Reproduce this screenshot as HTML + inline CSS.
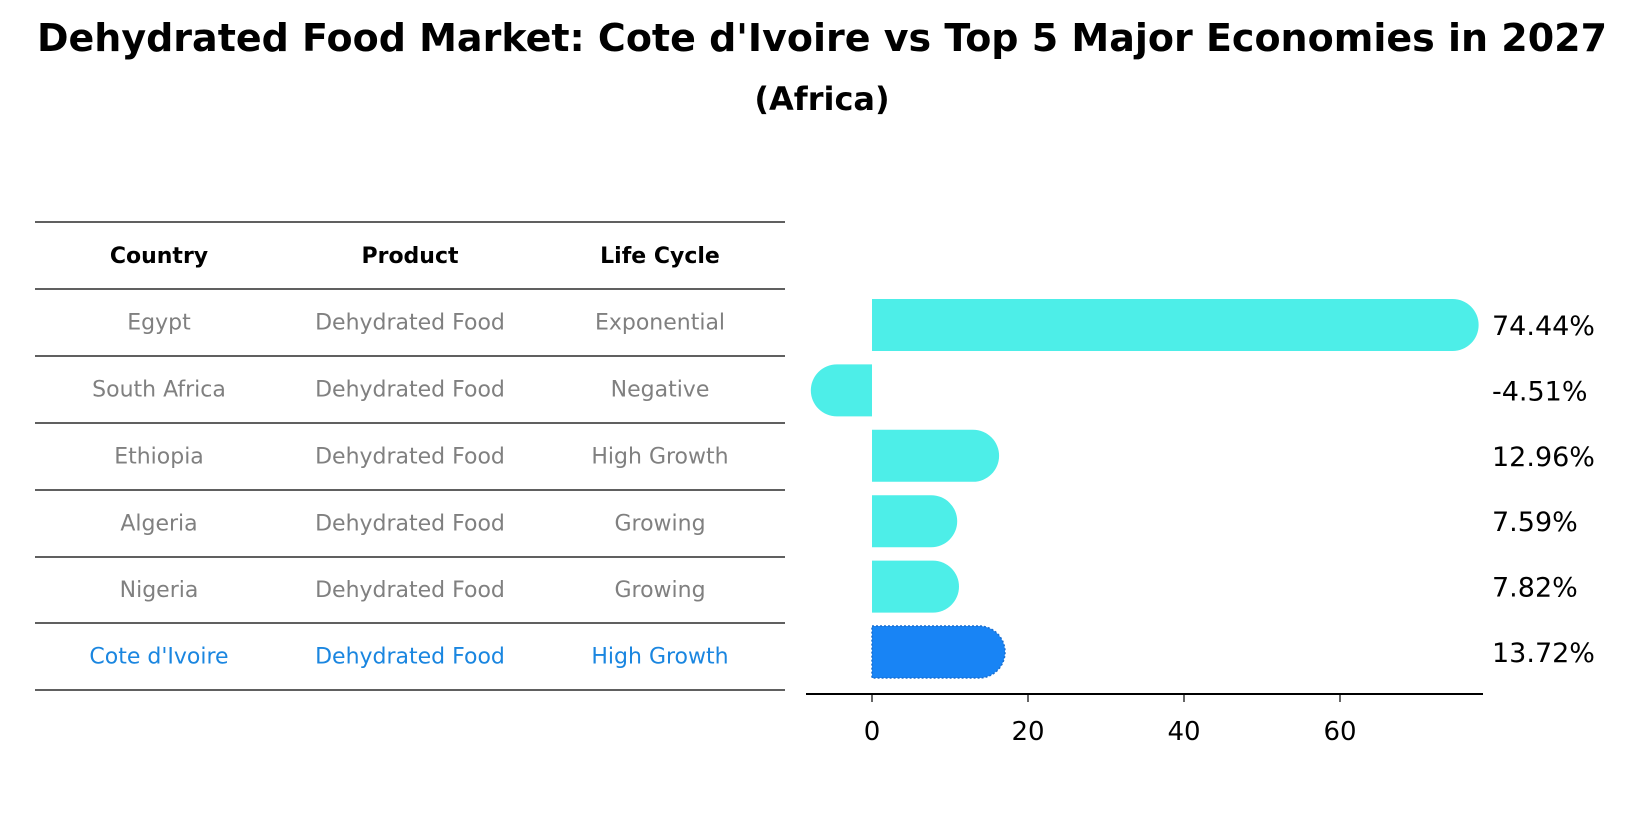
<!DOCTYPE html>
<html><head><meta charset="utf-8"><style>
body{margin:0;background:#fff;width:1644px;height:823px;overflow:hidden;font-family:"DejaVu Sans","Liberation Sans",sans-serif;}
</style></head><body>
<svg width="1644" height="823" xmlns="http://www.w3.org/2000/svg">
<text x="822" y="51" text-anchor="middle" font-size="38" font-weight="bold">Dehydrated Food Market: Cote d'Ivoire vs Top 5 Major Economies in 2027</text>
<text x="822" y="110" text-anchor="middle" font-size="32" font-weight="bold">(Africa)</text>
<g id="table"></g>
<g id="bars"></g>
</svg>
<script>
const countries=["Egypt","South Africa","Ethiopia","Algeria","Nigeria","Cote d'Ivoire"];
const products=["Dehydrated Food","Dehydrated Food","Dehydrated Food","Dehydrated Food","Dehydrated Food","Dehydrated Food"];
const lifeCycles=["Exponential","Negative","High Growth","Growing","Growing","High Growth"];
const values=[74.44,-4.51,12.96,7.59,7.82,13.72];
const valueLabels=["74.44%","-4.51%","12.96%","7.59%","7.82%","13.72%"];
const xTicks=[0,20,40,60];
const NS="http://www.w3.org/2000/svg";
function mk(tag,attrs,parent){const e=document.createElementNS(NS,tag);for(const k in attrs)e.setAttribute(k,attrs[k]);parent.appendChild(e);return e;}
const tbl=document.getElementById('table');
const lines=[222,289,356,423,490,557,623,690];
lines.forEach(y=>{const l=mk('line',{x1:35,x2:785,y1:y,y2:y,stroke:'#000','stroke-width':1.2},tbl);

});
const colX=[159,410,660];
["Country","Product","Life Cycle"].forEach((h,i)=>{const t=mk('text',{x:colX[i],y:263,'text-anchor':'middle','font-size':22,'font-weight':'bold'},tbl);t.textContent=h;

});
const rowY=i=>(lines[i+1]+lines[i+2])/2+7;
countries.forEach((c,i)=>{const col=i===countries.length-1?'#1a86e0':'#808080';
[c,products[i],lifeCycles[i]].forEach((v,j)=>{const t=mk('text',{x:colX[j],y:rowY(i),'text-anchor':'middle','font-size':22,fill:col},tbl);t.textContent=v;

});});
const g=document.getElementById('bars');
const x0=872,pxPer=7.8;
const X=v=>x0+v*pxPer;
const Y=i=>325+i*65.4;
const h=52,r=26;
values.forEach((v,i)=>{const col=i===values.length-1?'#1884f5':'#4deee8';
const xe=X(v),yc=Y(i),top=yc-h/2;
let d;
if(v>=0){d=`M${x0},${top} L${xe},${top} A${r},${r} 0 0 1 ${xe},${top+h} L${x0},${top+h} Z`;}
else{d=`M${x0},${top} L${xe},${top} A${r},${r} 0 0 0 ${xe},${top+h} L${x0},${top+h} Z`;}
const p=mk('path',{d:d,fill:col},g);
if(i===values.length-1){p.setAttribute('stroke','#1a6fd0');p.setAttribute('stroke-dasharray','2,2');p.setAttribute('stroke-width','1.5');}


const t=mk('text',{x:1492,y:yc+10,'font-size':27},g);t.textContent=valueLabels[i];

});
const ax=mk('line',{x1:806,x2:1483,y1:694,y2:694,stroke:'#000','stroke-width':2},g);


xTicks.forEach(v=>{const tk=mk('line',{x1:X(v),x2:X(v),y1:694,y2:702,stroke:'#000','stroke-width':1.2},g);


const t=mk('text',{x:X(v),y:740,'text-anchor':'middle','font-size':26},g);t.textContent=v;

});
</script>
</body></html>
